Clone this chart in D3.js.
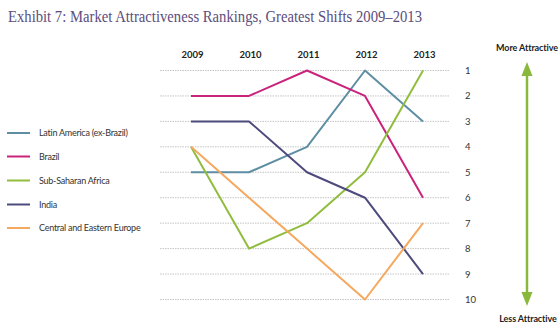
<!DOCTYPE html>
<html><head><meta charset="utf-8">
<script src="https://cdn.jsdelivr.net/npm/d3@7"></script>
<style>body{margin:0;background:#fff}svg{display:block}</style>
</head><body>
<script>
const years = ["2009","2010","2011","2012","2013"];
const ranks = [1,2,3,4,5,6,7,8,9,10];
const seriesNames = ["Latin America (ex-Brazil)","Brazil","Sub-Saharan Africa","India","Central and Eastern Europe"];
const latinAmerica = [5,5,4,1,3];
const brazil = [2,2,1,2,6];
const subSaharanAfrica = [4,8,7,5,1];
const india = [3,3,5,6,9];
const centralEasternEurope = [4,6,8,10,7];
const seriesColors = ["#5e8ea3","#c9237c","#90bd3e","#4d4a7c","#f5a85f"];

const seriesData = [latinAmerica, brazil, subSaharanAfrica, india, centralEasternEurope];

const W = 560, H = 331;
const svg = d3.select("body").append("svg").attr("width", W).attr("height", H);

const x = d3.scalePoint().domain(years).range([191, 423]);
const y = d3.scaleLinear().domain([1, 10]).range([70.5, 299.5]);

// title
svg.append("text").attr("x", 8).attr("y", 22)
  .attr("font-family", "Liberation Serif, serif").attr("font-size", 16.5)
  .attr("fill", "#5c4d7d").attr("textLength", 414).attr("lengthAdjust", "spacingAndGlyphs")
  .text("Exhibit 7: Market Attractiveness Rankings, Greatest Shifts 2009–2013");

// gridlines
svg.append("g").selectAll("line").data(ranks).join("line")
  .attr("x1", 160).attr("x2", 450)
  .attr("y1", d => y(d)).attr("y2", d => y(d))
  .attr("stroke", "#c4c4c4").attr("stroke-width", 1).attr("stroke-dasharray", "1.5,1");

// right rank axis labels
const rankAxis = d3.axisRight(y).tickValues(ranks).tickSize(0).tickPadding(0).tickFormat(d3.format("d"));
const ra = svg.append("g").attr("transform", "translate(465,0)").call(rankAxis);
ra.select(".domain").remove();
ra.selectAll("text").attr("font-family", "Lato, sans-serif").attr("font-size", 9.5).attr("fill", "#333");

// year labels
const yearAxis = d3.axisTop(x).tickSize(0).tickPadding(0);
const ya = svg.append("g").attr("transform", "translate(1,58)").call(yearAxis);
ya.select(".domain").remove();
ya.selectAll("text").attr("font-family", "Lato, sans-serif").attr("font-size", 9.5)
  .attr("font-weight", "bold").attr("fill", "#222");

// lines
const line = d3.line().x((d, i) => x(years[i])).y(d => y(d));
svg.append("g").selectAll("path").data(seriesData).join("path")
  .attr("d", d => line(d))
  .attr("fill", "none")
  .attr("stroke", (d, i) => seriesColors[i])
  .attr("stroke-width", 2)
  .attr("stroke-linejoin", "round");

// legend
const legY = [133, 156.5, 180.5, 204.5, 228];
const lg = svg.append("g").selectAll("g").data(seriesNames).join("g")
  .attr("transform", (d, i) => `translate(0,${legY[i]})`);
lg.append("line").attr("x1", 7).attr("x2", 30).attr("stroke", (d, i) => seriesColors[i]).attr("stroke-width", 2);
lg.append("text").attr("x", 39).attr("y", 3.2).attr("font-family", "Lato, sans-serif")
  .attr("font-size", 9).attr("letter-spacing", -0.25).attr("fill", "#333").text(d => d);

// attractiveness arrow
const green = "#8ab83a";
svg.append("text").attr("x", 527).attr("y", 51).attr("text-anchor", "middle")
  .attr("font-family", "Lato, sans-serif").attr("font-size", 9).attr("letter-spacing", -0.1)
  .attr("font-weight", "bold").attr("fill", "#222")
  .text("More Attractive");
svg.append("text").attr("x", 528).attr("y", 322).attr("text-anchor", "middle")
  .attr("font-family", "Lato, sans-serif").attr("font-size", 9).attr("letter-spacing", -0.1)
  .attr("font-weight", "bold").attr("fill", "#222")
  .text("Less Attractive");
svg.append("line").attr("x1", 527).attr("x2", 527).attr("y1", 70).attr("y2", 298)
  .attr("stroke", green).attr("stroke-width", 2.5);
svg.append("path").attr("d", "M527,62 L521.5,76 L532.5,76 Z").attr("fill", green);
svg.append("path").attr("d", "M527,306 L521.5,292 L532.5,292 Z").attr("fill", green);
</script>
</body></html>
